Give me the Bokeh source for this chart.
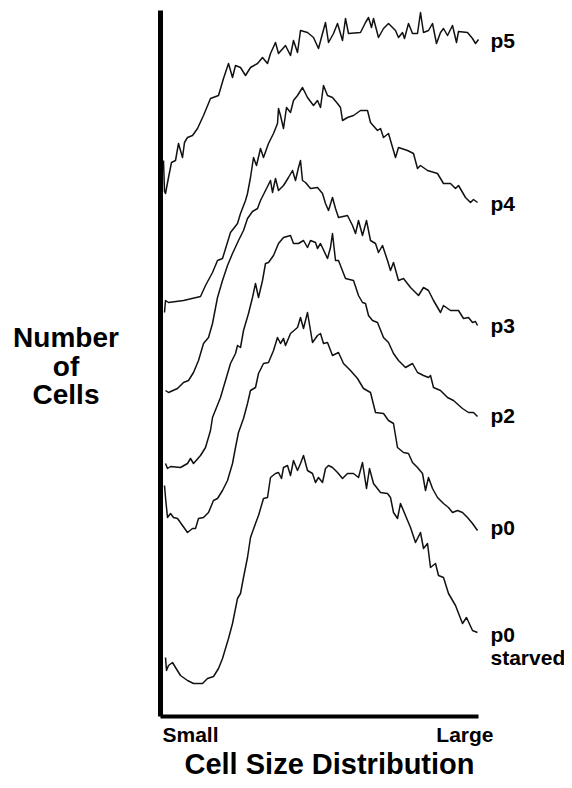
from bokeh.plotting import figure
from bokeh.models import Range1d, Label, FixedTicker, LinearAxis
from bokeh.embed import file_html
from bokeh.resources import INLINE

# Relative cell size (channel) vs number of cells (arbitrary units, curves stacked)
p5 = [(3,556),(4,525),(5,523),(8,539),(11,554),(15,556),(18,573),(22,559),(24,574),(27,579),(32,581),(37,588),(43,601),(50,618),(58,621),(63,638),(68,653),(72,639),(75,651),(80,649),(85,641),(90,649),(97,653),(102,659),(107,653),(110,663),(115,674),(118,663),(125,671),(130,661),(133,676),(137,664),(140,686),(147,684),(153,679),(158,668),(162,683),(165,694),(168,674),(173,683),(177,693),(182,676),(185,698),(188,683),(200,684),(205,694),(208,699),(211,689),(213,698),(218,679),(223,688),(228,693),(235,686),(238,679),(242,684),(244,678),(248,693),(252,683),(257,683),(260,704),(263,684),(268,686),(272,693),(276,673),(280,684),(283,688),(287,681),(292,691),(296,674),(298,685),(307,684),(312,678),(315,673),(318,677)]

p4 = [(4,404),(5,416),(8,414),(23,416),(40,420),(45,431),(52,444),(57,456),(62,458),(70,484),(77,493),(80,503),(85,516),(87,523),(90,539),(93,559),(96,551),(100,568),(103,559),(108,573),(113,583),(117,593),(118,608),(120,601),(123,588),(126,609),(130,604),(133,616),(137,621),(142,629),(147,619),(153,611),(157,616),(160,609),(163,631),(167,621),(172,619),(177,613),(180,609),(182,596),(187,599),(193,601),(200,606),(207,606),(210,594),(217,586),(220,588),(223,579),(228,583),(235,559),(238,569),(247,566),(253,563),(257,548),(260,551),(267,546),(277,543),(283,533),(290,533),(295,528),(298,531),(305,519),(310,514),(313,517),(317,514)]

p3 = [(5,326),(8,324),(17,328),(23,334),(28,336),(33,344),(38,356),(43,373),(48,379),(52,393),(57,419),(62,436),(67,451),(72,463),(78,476),(83,486),(87,498),(92,505),(97,508),(100,516),(105,526),(110,536),(112,524),(115,538),(118,526),(123,531),(128,539),(132,546),(135,536),(138,549),(140,556),(142,536),(145,534),(150,528),(157,529),(162,523),(165,513),(168,506),(172,519),(175,508),(178,499),(187,501),(192,491),(195,483),(198,496),(202,481),(206,496),(210,476),(215,473),(218,464),(222,471),(227,456),(230,446),(233,454),(238,436),(243,438),(250,429),(258,421),(263,429),(268,426),(273,416),(280,404),(283,411),(290,406),(298,406),(303,398),(308,399),(312,394),(315,395),(317,391)]

p2 = [(5,253),(7,248),(10,250),(20,249),(27,253),(30,258),(33,253),(40,261),(45,269),(50,286),(52,299),(60,319),(65,336),(70,353),(75,363),(77,371),(80,369),(83,386),(88,403),(92,419),(95,433),(98,419),(102,436),(105,453),(108,454),(113,461),(118,473),(123,479),(130,481),(133,473),(138,473),(143,476),(147,469),(150,476),(155,474),(157,468),(160,473),(167,458),(170,469),(172,483),(175,456),(178,456),(185,438),(193,436),(198,421),(202,414),(205,413),(208,401),(212,396),(217,394),(223,379),(228,374),(233,363),(238,356),(245,349),(252,353),(257,344),(263,341),(268,339),(270,341),(273,329),(280,326),(287,319),(293,316),(302,308),(308,304),(313,304),(317,300)]

p0 = [(4,231),(5,219),(7,199),(10,203),(13,199),(17,198),(22,191),(27,184),(32,188),(35,188),(38,198),(43,199),(48,204),(53,216),(57,218),(62,226),(67,236),(72,253),(75,269),(78,284),(83,298),(87,313),(90,326),(95,329),(98,343),(103,353),(108,354),(113,366),(117,379),(120,373),(123,378),(125,371),(130,383),(137,389),(140,399),(143,388),(147,404),(152,374),(157,381),(160,383),(163,373),(167,374),(172,361),(178,364),(183,353),(190,346),(197,338),(203,328),(210,324),(215,304),(223,303),(228,296),(233,293),(235,281),(237,269),(243,264),(248,263),(252,254),(257,249),(262,243),(265,226),(268,239),(272,228),(277,219),(283,213),(288,209),(292,204),(297,206),(302,204),(307,199),(312,193),(317,186)]

p0_starved = [(5,59),(6,46),(8,51),(12,54),(15,49),(20,41),(27,36),(33,33),(42,33),(47,38),(53,40),(58,48),(62,58),(65,68),(68,78),(72,93),(77,118),(80,123),(83,139),(87,159),(90,179),(95,193),(98,201),(103,218),(107,219),(110,239),(115,243),(118,244),(121,238),(123,249),(127,251),(130,241),(133,256),(137,246),(140,253),(143,261),(147,246),(152,243),(155,234),(158,239),(162,234),(165,248),(168,251),(172,249),(177,244),(182,238),(187,243),(193,243),(198,239),(202,254),(206,228),(209,248),(213,233),(220,224),(227,223),(230,219),(233,204),(237,198),(240,213),(245,201),(250,189),(255,174),(260,184),(263,168),(267,173),(270,149),(275,153),(278,141),(283,139),(288,123),(295,111),(302,93),(306,99),(312,86),(317,84)]

curves = [p5, p4, p3, p2, p0, p0_starved]
curve_labels = [["p5"], ["p4"], ["p3"], ["p2"], ["p0"], ["p0", "starved"]]
y_title_lines = ["Number", "of", "Cells"]
x_end_labels = ["Small", "Large"]
x_title = "Cell Size Distribution"

# data extents of the drawn axes
x_max = 318
y_max = 706

# layout (label anchor positions in data units)
curve_label_x = 330
curve_label_y = [676, 513, 391, 301, 189, 82]
line_step = 23
y_title_x = -94.5
y_title_y = [379, 350, 322]
end_label_y = -18
x_title_y = -47

FONT = "Liberation Sans"
INK = "black"

p = figure(width=564, height=788, output_backend="svg", toolbar_location=None,
           x_range=Range1d(-160, 404), y_range=Range1d(-72, 716),
           x_axis_type=None, y_axis_type=None,
           min_border=0, min_border_left=0, min_border_right=0,
           min_border_top=0, min_border_bottom=0)
p.grid.visible = False
p.outline_line_color = None
p.background_fill_color = "white"
p.border_fill_color = "white"


def make_axis(width, bounds):
    ax = LinearAxis(ticker=FixedTicker(ticks=[]), fixed_location=0, bounds=bounds)
    ax.major_tick_line_color = None
    ax.minor_tick_line_color = None
    ax.major_tick_out = 0
    ax.major_tick_in = 0
    ax.minor_tick_out = 0
    ax.minor_tick_in = 0
    ax.major_label_standoff = 0
    ax.axis_label_standoff = 0
    ax.major_label_text_font_size = "0px"
    ax.axis_line_color = INK
    ax.axis_line_width = width
    return ax


p.add_layout(make_axis(4, (0, x_max)), "below")
p.add_layout(make_axis(5, (0, y_max)), "left")

for c in curves:
    xs = [pt[0] for pt in c]
    ys = [pt[1] for pt in c]
    p.line(xs, ys, line_color="#111111", line_width=1.5, line_join="round")


def add_text(x, y, t, size, align):
    p.add_layout(Label(x=x, y=y, text=t, text_font=FONT, text_font_style="bold",
                       text_font_size=size, text_align=align,
                       text_baseline="alphabetic", text_color=INK))


for lines, yb in zip(curve_labels, curve_label_y):
    for i, t in enumerate(lines):
        add_text(curve_label_x, yb - i * line_step, t, "21px", "left")

for t, yb in zip(y_title_lines, y_title_y):
    add_text(y_title_x, yb, t, "28px", "center")

add_text(2, end_label_y, x_end_labels[0], "21px", "left")
add_text(333, end_label_y, x_end_labels[1], "21px", "right")
add_text(169, x_title_y, x_title, "29px", "center")

open("out.html", "w").write(file_html(p, INLINE))
